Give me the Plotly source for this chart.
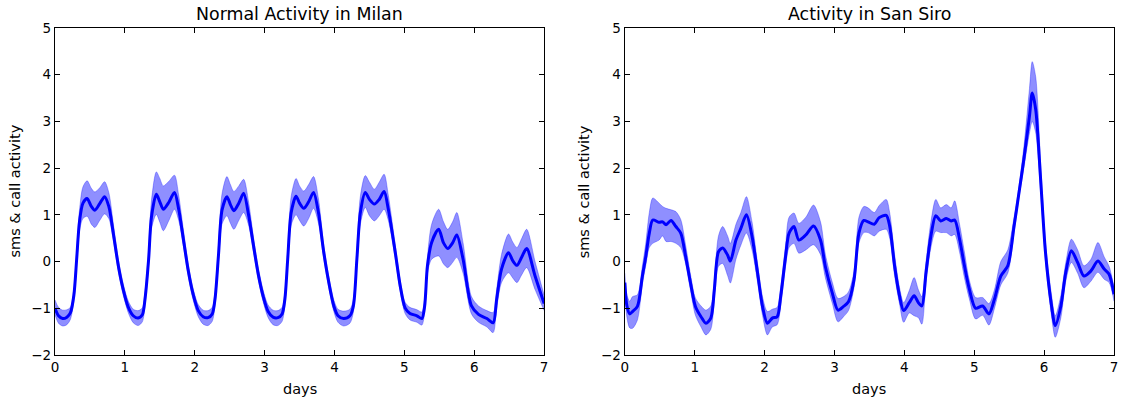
import plotly.graph_objects as go

# ---- Normal activity in Milan (mean and confidence band) ----
milan_days = [0.00, 0.05, 0.11, 0.17, 0.22, 0.27, 0.31, 0.35, 0.40, 0.46, 0.52, 0.57, 0.64, 0.71, 0.77, 0.84, 0.91, 0.98,
              1.05, 1.12, 1.19, 1.25, 1.29, 1.34, 1.38, 1.45, 1.50, 1.55, 1.63, 1.71, 1.77, 1.84, 1.91, 1.98,
              2.05, 2.12, 2.19, 2.25, 2.29, 2.34, 2.39, 2.46, 2.51, 2.56, 2.63, 2.70, 2.77, 2.84, 2.91, 2.98,
              3.05, 3.12, 3.19, 3.25, 3.29, 3.33, 3.38, 3.45, 3.50, 3.56, 3.63, 3.70, 3.77, 3.84, 3.91, 3.99,
              4.05, 4.13, 4.22, 4.27, 4.32, 4.37, 4.44, 4.50, 4.57, 4.64, 4.71, 4.77, 4.87, 4.94,
              5.01, 5.08, 5.18, 5.25, 5.29, 5.33, 5.39, 5.49, 5.56, 5.62, 5.69, 5.75, 5.84, 5.96,
              6.06, 6.18, 6.27, 6.32, 6.39, 6.49, 6.55, 6.61, 6.68, 6.75, 6.87, 7.00]
milan_mean = [-1.00, -1.16, -1.22, -1.19, -1.10, -0.72, 0.05, 0.85, 1.25, 1.35, 1.18, 1.10, 1.24, 1.39, 1.18, 0.55, -0.12, -0.62,
              -0.98, -1.16, -1.21, -1.14, -0.78, 0.05, 0.95, 1.44, 1.28, 1.12, 1.27, 1.48, 1.12, 0.45, -0.22, -0.72,
              -1.05, -1.18, -1.20, -1.12, -0.80, 0.15, 1.10, 1.39, 1.22, 1.09, 1.25, 1.46, 1.00, 0.35, -0.28, -0.75,
              -1.07, -1.19, -1.20, -1.12, -0.80, 0.05, 1.05, 1.40, 1.25, 1.14, 1.28, 1.48, 1.05, 0.26, -0.38, -0.95,
              -1.16, -1.22, -1.16, -0.95, 0.05, 1.05, 1.48, 1.33, 1.23, 1.33, 1.50, 1.12, 0.19, -0.52,
              -0.99, -1.11, -1.16, -1.22, -0.95, -0.09, 0.41, 0.69, 0.40, 0.28, 0.40, 0.57, 0.05, -0.95,
              -1.13, -1.22, -1.31, -0.81, -0.16, 0.19, 0.02, -0.08, 0.10, 0.28, -0.31, -0.90]
milan_low = [-1.14, -1.32, -1.38, -1.35, -1.24, -0.84, -0.08, 0.65, 0.92, 0.97, 0.80, 0.73, 0.88, 1.02, 0.92, 0.40, -0.25, -0.74,
             -1.10, -1.31, -1.37, -1.29, -0.90, -0.08, 0.70, 1.01, 0.84, 0.66, 0.88, 1.12, 0.88, 0.30, -0.35, -0.84,
             -1.18, -1.34, -1.37, -1.28, -0.93, 0.00, 0.80, 0.98, 0.82, 0.69, 0.88, 1.05, 0.78, 0.20, -0.40, -0.87,
             -1.20, -1.35, -1.37, -1.28, -0.93, -0.08, 0.78, 1.00, 0.88, 0.76, 0.92, 1.14, 0.82, 0.12, -0.50, -1.07,
             -1.30, -1.38, -1.32, -1.08, -0.08, 0.80, 1.16, 0.98, 0.87, 0.98, 1.12, 0.88, 0.05, -0.64,
             -1.11, -1.25, -1.30, -1.36, -1.08, -0.25, 0.05, 0.12, -0.05, -0.13, -0.02, 0.09, -0.25, -1.12,
             -1.30, -1.40, -1.52, -1.00, -0.45, -0.24, -0.35, -0.45, -0.28, -0.13, -0.60, -1.05]
milan_high = [-0.82, -0.98, -1.04, -1.03, -0.98, -0.58, 0.22, 1.10, 1.60, 1.73, 1.57, 1.49, 1.58, 1.71, 1.48, 0.75, 0.02, -0.50,
              -0.85, -1.02, -1.05, -0.99, -0.62, 0.25, 1.30, 1.92, 1.78, 1.62, 1.72, 1.85, 1.42, 0.65, -0.08, -0.60,
              -0.92, -1.04, -1.05, -0.98, -0.65, 0.35, 1.45, 1.82, 1.65, 1.50, 1.62, 1.76, 1.28, 0.52, -0.14, -0.62,
              -0.93, -1.04, -1.05, -0.98, -0.65, 0.25, 1.40, 1.78, 1.62, 1.51, 1.65, 1.82, 1.35, 0.42, -0.25, -0.82,
              -1.02, -1.06, -1.02, -0.80, 0.25, 1.40, 1.84, 1.70, 1.55, 1.70, 1.87, 1.42, 0.35, -0.40,
              -0.87, -0.98, -1.03, -1.08, -0.80, 0.10, 0.80, 1.12, 0.85, 0.69, 0.85, 1.05, 0.40, -0.75,
              -0.95, -1.05, -1.09, -0.60, 0.15, 0.59, 0.42, 0.30, 0.50, 0.69, 0.00, -0.72]

# ---- Activity in San Siro (mean and confidence band) ----
siro_days = [0.00, 0.03, 0.07, 0.11, 0.18, 0.25, 0.30, 0.35, 0.40, 0.49, 0.54, 0.59, 0.66, 0.73, 0.80, 0.87, 0.94,
             1.01, 1.09, 1.16, 1.23, 1.28, 1.34, 1.40, 1.47, 1.51, 1.59, 1.66, 1.74, 1.82, 1.90, 1.97,
             2.04, 2.11, 2.18, 2.23, 2.30, 2.35, 2.42, 2.49, 2.59, 2.70, 2.80, 2.87, 2.97,
             3.05, 3.13, 3.20, 3.28, 3.35, 3.42, 3.48, 3.57, 3.64, 3.74, 3.79, 3.86, 3.93, 3.99,
             4.07, 4.14, 4.20, 4.25, 4.31, 4.38, 4.45, 4.52, 4.60, 4.67, 4.72, 4.79, 4.86, 4.93,
             5.02, 5.12, 5.21, 5.29, 5.38, 5.48, 5.57, 5.64, 5.71, 5.79, 5.83, 5.88, 5.95,
             6.02, 6.10, 6.16, 6.24, 6.31, 6.39, 6.48, 6.57, 6.67, 6.77, 6.86, 6.93, 7.00]
siro_mean = [-0.45, -0.95, -1.12, -1.07, -0.96, -0.32, 0.11, 0.61, 0.89, 0.84, 0.85, 0.79, 0.88, 0.75, 0.61, 0.11, -0.46,
             -0.96, -1.18, -1.32, -1.21, -0.61, 0.21, 0.29, 0.14, 0.01, 0.46, 0.71, 1.00, 0.54, -0.25, -0.96,
             -1.32, -1.21, -1.18, -0.75, 0.11, 0.61, 0.75, 0.46, 0.57, 0.76, 0.46, -0.11, -0.68,
             -1.04, -0.96, -0.86, -0.39, 0.61, 0.88, 0.85, 0.80, 0.94, 0.99, 0.76, -0.09, -0.73, -1.05,
             -0.88, -0.73, -0.88, -0.95, -0.23, 0.55, 0.98, 0.87, 0.92, 0.87, 0.89, 0.48, -0.09, -0.59,
             -1.00, -0.95, -1.12, -0.80, -0.31, -0.09, 0.76, 1.47, 2.19, 3.11, 3.61, 3.25, 1.76,
             0.19, -0.88, -1.37, -0.95, -0.23, 0.23, -0.02, -0.31, -0.20, 0.01, -0.16, -0.27, -0.70]
siro_low = [-0.70, -1.20, -1.42, -1.43, -1.25, -0.50, -0.08, 0.30, 0.39, 0.46, 0.55, 0.43, 0.43, 0.39, 0.30, -0.05, -0.62,
            -1.15, -1.40, -1.57, -1.45, -0.85, -0.10, -0.04, -0.30, -0.46, 0.05, 0.35, 0.61, 0.25, -0.45, -1.15,
            -1.57, -1.40, -1.35, -0.95, -0.10, 0.30, 0.39, 0.18, 0.25, 0.36, 0.15, -0.35, -0.90,
            -1.29, -1.18, -1.05, -0.55, 0.40, 0.62, 0.62, 0.55, 0.65, 0.69, 0.50, -0.30, -0.90, -1.30,
            -1.10, -1.16, -1.20, -1.34, -0.45, 0.30, 0.65, 0.62, 0.62, 0.55, 0.58, 0.20, -0.35, -0.80,
            -1.23, -1.15, -1.36, -1.00, -0.50, -0.25, 0.62, 1.37, 2.00, 2.75, 3.00, 2.75, 1.50,
            0.00, -1.10, -1.62, -1.20, -0.42, -0.02, -0.25, -0.56, -0.42, -0.23, -0.38, -0.45, -0.85]
siro_high = [-0.25, -0.72, -0.85, -0.75, -0.71, -0.10, 0.40, 1.05, 1.36, 1.25, 1.18, 1.14, 1.11, 1.07, 0.90, 0.35, -0.28,
             -0.78, -0.95, -1.04, -0.95, -0.40, 0.55, 0.75, 0.55, 0.39, 0.80, 1.05, 1.39, 0.85, -0.05, -0.75,
             -1.07, -1.02, -0.98, -0.55, 0.35, 0.95, 1.04, 0.82, 0.95, 1.21, 0.85, 0.15, -0.45,
             -0.79, -0.75, -0.65, -0.20, 0.95, 1.18, 1.15, 1.05, 1.20, 1.33, 1.05, 0.15, -0.55, -0.88,
             -0.62, -0.34, -0.60, -0.75, 0.00, 0.85, 1.33, 1.15, 1.22, 1.15, 1.30, 0.80, 0.20, -0.40,
             -0.77, -0.77, -0.90, -0.60, 0.00, 0.25, 0.95, 1.62, 2.45, 3.70, 4.28, 3.95, 2.10,
             0.40, -0.65, -1.16, -0.72, -0.02, 0.48, 0.25, -0.09, 0.05, 0.41, 0.10, -0.10, -0.55]

titles = ["Normal Activity in Milan", "Activity in San Siro"]
x_ticks = [0, 1, 2, 3, 4, 5, 6, 7]
y_ticks = [-2, -1, 0, 1, 2, 3, 4, 5]

BLUE = "#0000ff"
BAND = "rgba(0,0,255,0.44)"
EDGE = "rgba(0,0,255,0.30)"
FONT = "DejaVu Sans"

panels = [
    (milan_days, milan_mean, milan_low, milan_high, "x", "y"),
    (siro_days, siro_mean, siro_low, siro_high, "x2", "y2"),
]

fig = go.Figure()
for days, mean, low, high, xa, ya in panels:
    fig.add_trace(go.Scatter(x=days, y=low, xaxis=xa, yaxis=ya, mode="lines",
                             line=dict(color=EDGE, width=1, shape="spline", smoothing=0.8),
                             showlegend=False, hoverinfo="skip"))
    fig.add_trace(go.Scatter(x=days, y=high, xaxis=xa, yaxis=ya, mode="lines",
                             line=dict(color=EDGE, width=1, shape="spline", smoothing=0.8),
                             fill="tonexty", fillcolor=BAND, showlegend=False, hoverinfo="skip"))
    fig.add_trace(go.Scatter(x=days, y=mean, xaxis=xa, yaxis=ya, mode="lines",
                             line=dict(color=BLUE, width=3, shape="spline", smoothing=0.8),
                             showlegend=False))

W, H = 1123, 402
ML, MR, MT, MB = 55, 5, 28, 47
pw = W - ML - MR
d1 = [0, (546 - ML) / pw]
d2 = [(627 - ML) / pw, 1]

axis_common = dict(showgrid=False, zeroline=False, showline=True, linecolor="black", linewidth=1.4,
                   mirror="ticks", ticks="inside", ticklen=5, tickwidth=1, tickcolor="black",
                   tickfont=dict(family=FONT, size=13.5, color="black"))

fig.update_layout(
    width=W, height=H,
    margin=dict(l=ML, r=MR, t=MT, b=MB),
    paper_bgcolor="white", plot_bgcolor="white",
    font=dict(family=FONT, size=13.5, color="black"),
    xaxis=dict(domain=d1, range=[0, 7], tickvals=x_ticks, anchor="y", **axis_common),
    yaxis=dict(domain=[0, 1], range=[-2, 5], tickvals=y_ticks, anchor="x", **axis_common),
    xaxis2=dict(domain=d2, range=[0, 7], tickvals=x_ticks, anchor="y2", **axis_common),
    yaxis2=dict(domain=[0, 1], range=[-2, 5], tickvals=y_ticks, anchor="x2", **axis_common),
)

annotations = []
for dom, title in zip([d1, d2], titles):
    cx = (dom[0] + dom[1]) / 2
    annotations.append(dict(text=title, x=cx, y=1, xref="paper", yref="paper",
                            xanchor="center", yanchor="bottom", yshift=2, showarrow=False,
                            font=dict(family=FONT, size=17.4, color="black")))
    annotations.append(dict(text="days", x=cx, y=0, xref="paper", yref="paper",
                            xanchor="center", yanchor="middle", yshift=-34, showarrow=False,
                            font=dict(family=FONT, size=14.5, color="black")))
    annotations.append(dict(text="sms & call activity", x=dom[0], y=0.5, xref="paper", yref="paper",
                            xanchor="center", yanchor="middle", xshift=-41, textangle=-90,
                            showarrow=False, font=dict(family=FONT, size=14.5, color="black")))
fig.update_layout(annotations=annotations)

fig.write_html("out.html")
